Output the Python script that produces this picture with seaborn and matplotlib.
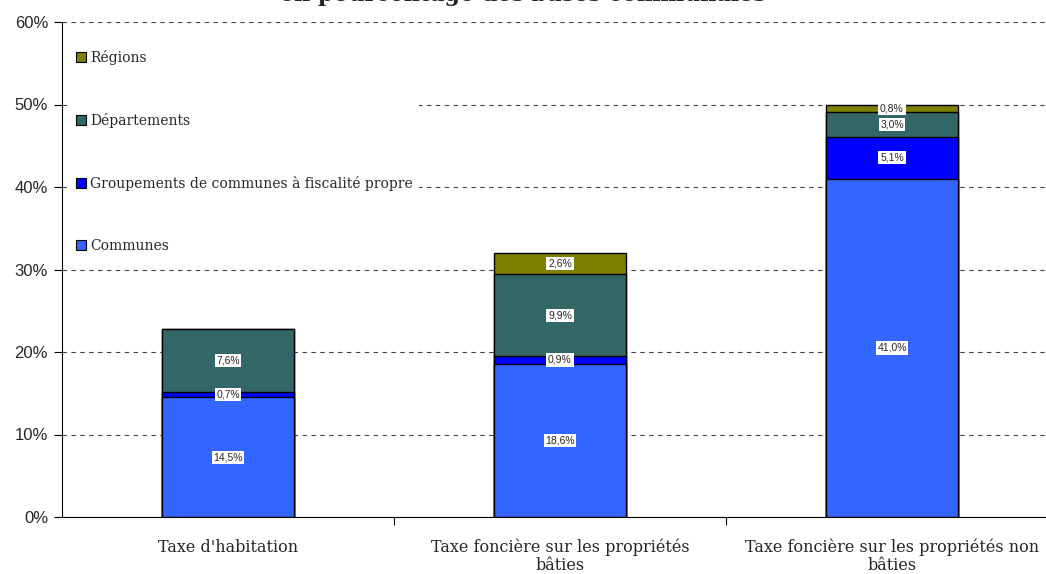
import numpy as np
import pandas as pd
import seaborn as sns
import matplotlib.pyplot as plt
from matplotlib.patches import Patch
from matplotlib.ticker import PercentFormatter, FixedLocator

# Data (percent of communal bases)
categories = ["Taxe d'habitation",
              "Taxe foncière sur les propriétés\nbâties",
              "Taxe foncière sur les propriétés non\nbâties"]
layers = ["Communes", "Groupements de communes à fiscalité propre",
          "Départements", "Régions"]
communes = [14.5, 18.6, 41.0]
groupements = [0.7, 0.9, 5.1]
departements = [7.6, 9.9, 3.0]
regions = [0.0, 2.6, 0.8]
colors = ["#3366FF", "#0000FF", "#336666", "#808000"]

values = np.array([communes, groupements, departements, regions])
tops = values.cumsum(axis=0)

sns.set_style("white")
fig = plt.figure(figsize=(10.46, 5.74), dpi=100)
ax = fig.add_axes([62 / 1046, 1 - 517 / 574, 996 / 1046, 495 / 574])

# stacked bars: draw cumulative totals from top layer down
for i in range(len(layers) - 1, -1, -1):
    df = pd.DataFrame({"cat": categories, "val": tops[i]})
    sns.barplot(data=df, x="cat", y="val", color=colors[i], saturation=1,
                edgecolor="black", linewidth=1, width=0.4, ax=ax, zorder=2)

# segment labels
for i in range(len(layers)):
    for j in range(len(categories)):
        v = values[i, j]
        if v <= 0:
            continue
        y = tops[i, j] - v / 2
        ax.text(j, y, f"{v:.1f}%".replace(".", ","), ha="center", va="center",
                fontsize=7.5, family="Liberation Sans", zorder=5,
                bbox=dict(facecolor="white", edgecolor="none", pad=1.2))

ax.set_xlim(-0.5, 2.5)
ax.set_ylim(0, 60)
ax.yaxis.set_major_locator(FixedLocator([0, 10, 20, 30, 40, 50, 60]))
ax.yaxis.set_major_formatter(PercentFormatter(decimals=0))
ax.set_xlabel("")
ax.set_ylabel("")

ax.yaxis.grid(True, color="0.25", linestyle=(0, (4, 4)), linewidth=0.8)
ax.set_axisbelow(True)

for s in ["top", "right"]:
    ax.spines[s].set_visible(False)
for s in ["left", "bottom"]:
    ax.spines[s].set_color("black")
    ax.spines[s].set_linewidth(0.8)

ax.tick_params(axis="y", which="major", left=True, length=6, width=0.8,
               direction="out", color="black", pad=4)
ax.tick_params(axis="x", which="major", bottom=False, pad=12)
ax.xaxis.set_minor_locator(FixedLocator([0.5, 1.5]))
ax.tick_params(axis="x", which="minor", bottom=True, length=6, width=0.8,
               direction="out", color="black")

for lab in ax.get_yticklabels():
    lab.set_family(["Liberation Sans Narrow", "Liberation Sans"])
    lab.set_fontsize(12)
for lab in ax.get_xticklabels():
    lab.set_family("DejaVu Serif")
    lab.set_fontsize(11.5)
    lab.set_linespacing(1.05)

handles = [Patch(facecolor=colors[i], edgecolor="black", linewidth=0.8)
           for i in range(len(layers) - 1, -1, -1)]
labels = layers[::-1]
leg = ax.legend(handles, labels, loc="upper left", bbox_to_anchor=(0.002, 0.969),
                frameon=True, facecolor="white", edgecolor="none", framealpha=1,
                fancybox=False, handlelength=0.7, handleheight=0.7,
                handletextpad=0.3, labelspacing=3.45, borderpad=0.4,
                prop={"family": "DejaVu Serif", "size": 10})
leg.set_zorder(10)

fig.text(0.5, 1 - 1 / 574, "en pourcentage des bases communales",
         ha="center", va="baseline", fontsize=16, fontweight="bold",
         family="DejaVu Serif")

fig.savefig("out.png", dpi=100)
